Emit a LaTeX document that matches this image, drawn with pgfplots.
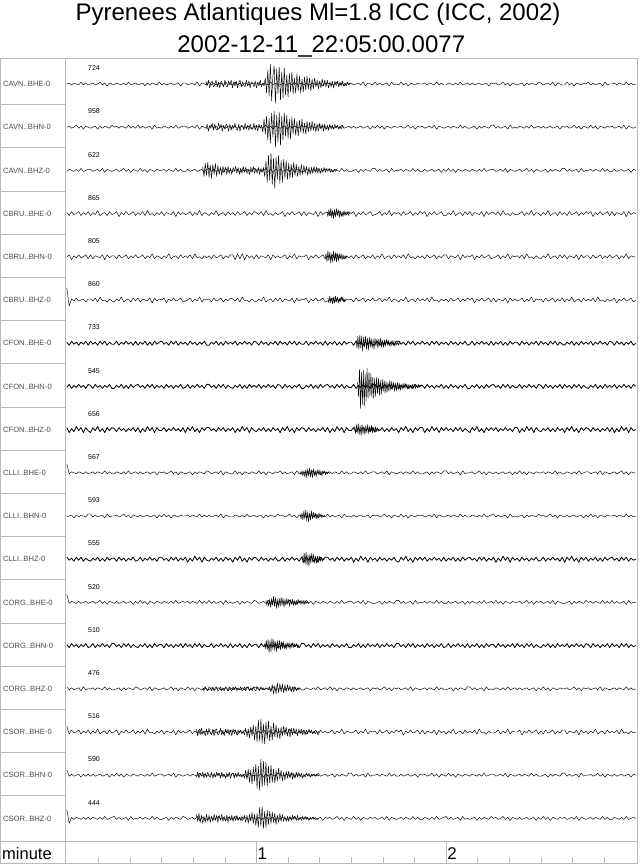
\documentclass[border=0pt]{standalone}
\usepackage{fontspec}
\setmainfont{Liberation Sans}
\usepackage{pgfplots}
\pgfplotsset{compat=1.18}
\tikzset{
  trthin/.style={black, line width=0.45pt, line join=round, mark=none},
  trthick/.style={black, line width=0.8pt, line join=round, mark=none},
  lab/.style={anchor=west, inner sep=0pt, text=black!70, font=\fontsize{7.6}{9}\selectfont},
  cnt/.style={anchor=west, inner sep=0pt, font=\fontsize{7}{8}\selectfont},
}
\begin{document}
\begin{tikzpicture}
\begin{axis}[name=ax, at={(0,0)}, anchor=south west, scale only axis,
  width=637pt, height=805pt, xmin=-21.14, xmax=180.4, ymin=0, ymax=805,
  axis line style={draw=gray!55, line width=0.6pt}, ticks=none, clip mode=individual]

% background noise of each channel: one sample every 0.75 s, px about the row centre
% CAVN..BHE-0
\addplot[trthin] table[row sep=\\, header=false, x expr=\coordindex*0.75, y expr=\thisrowno{0}+779] {
0\\1\\-1\\1\\0\\-1\\2\\-1\\1\\-1\\
0\\1\\-1\\0\\2\\-1\\1\\-2\\1\\0\\
-1\\1\\0\\-1\\1\\-1\\2\\-1\\0\\1\\
-1\\0\\1\\-2\\1\\-1\\1\\0\\-1\\2\\
-1\\1\\-1\\0\\1\\-1\\0\\1\\-2\\1\\
1\\-1\\0\\1\\-1\\2\\-2\\1\\0\\-1\\
2\\-1\\1\\-1\\0\\1\\-2\\2\\-1\\0\\
-1\\2\\-1\\1\\-2\\1\\0\\-1\\1\\0\\
0\\1\\-1\\1\\0\\-1\\2\\-1\\1\\-1\\
-1\\1\\0\\-1\\1\\-1\\2\\-1\\0\\1\\
-1\\1\\-1\\0\\1\\-1\\0\\1\\-2\\1\\
0\\1\\-1\\0\\2\\-1\\1\\-2\\1\\0\\
1\\-1\\0\\1\\-1\\2\\-2\\1\\0\\-1\\
2\\-1\\1\\-1\\0\\1\\-2\\2\\-1\\0\\
-1\\2\\-1\\1\\-2\\1\\0\\-1\\1\\0\\
0\\1\\-1\\1\\0\\-1\\2\\-1\\1\\-1\\
-1\\1\\0\\-1\\1\\-1\\2\\-1\\0\\1\\
-1\\1\\-1\\0\\1\\-1\\0\\1\\-2\\1\\
0\\1\\-1\\0\\2\\-1\\1\\-2\\1\\0\\
-1\\0\\1\\-2\\1\\-1\\1\\0\\-1\\2\\
1\\-1\\0\\1\\-1\\2\\-2\\1\\0\\-1\\
-1\\2\\-1\\1\\-2\\1\\0\\-1\\1\\0\\
2\\-1\\1\\-1\\0\\1\\-2\\2\\-1\\0\\
0\\1\\-1\\1\\0\\-1\\2\\-1\\1\\-1\\
0\\
};
% CAVN..BHN-0
\addplot[trthin] table[row sep=\\, header=false, x expr=\coordindex*0.75, y expr=\thisrowno{0}+735.8] {
0\\1\\-1\\0\\2\\-1\\1\\-2\\1\\0\\
-1\\0\\1\\-2\\1\\-1\\1\\0\\-1\\2\\
0\\1\\-1\\1\\0\\-1\\2\\-1\\1\\-1\\
2\\-1\\1\\-1\\0\\1\\-2\\2\\-1\\0\\
-1\\1\\0\\-1\\1\\-1\\2\\-1\\0\\1\\
1\\-1\\0\\1\\-1\\2\\-2\\1\\0\\-1\\
-1\\2\\-1\\1\\-2\\1\\0\\-1\\1\\0\\
-1\\1\\-1\\0\\1\\-1\\0\\1\\-2\\1\\
0\\1\\-1\\0\\2\\-1\\1\\-2\\1\\0\\
-1\\0\\1\\-2\\1\\-1\\1\\0\\-1\\2\\
0\\1\\-1\\1\\0\\-1\\2\\-1\\1\\-1\\
-1\\1\\0\\-1\\1\\-1\\2\\-1\\0\\1\\
-1\\1\\-1\\0\\1\\-1\\0\\1\\-2\\1\\
-1\\2\\-1\\1\\-2\\1\\0\\-1\\1\\0\\
0\\1\\-1\\0\\2\\-1\\1\\-2\\1\\0\\
1\\-1\\0\\1\\-1\\2\\-2\\1\\0\\-1\\
0\\1\\-1\\1\\0\\-1\\2\\-1\\1\\-1\\
-1\\0\\1\\-2\\1\\-1\\1\\0\\-1\\2\\
2\\-1\\1\\-1\\0\\1\\-2\\2\\-1\\0\\
-1\\1\\0\\-1\\1\\-1\\2\\-1\\0\\1\\
-1\\1\\-1\\0\\1\\-1\\0\\1\\-2\\1\\
0\\1\\-1\\0\\2\\-1\\1\\-2\\1\\0\\
-1\\2\\-1\\1\\-2\\1\\0\\-1\\1\\0\\
1\\-1\\0\\1\\-1\\2\\-2\\1\\0\\-1\\
0\\
};
% CAVN..BHZ-0
\addplot[trthin] table[row sep=\\, header=false, x expr=\coordindex*0.75, y expr=\thisrowno{0}+692.6] {
-1\\1\\0\\-1\\1\\-1\\2\\-1\\0\\1\\
1\\-1\\0\\1\\-1\\2\\-2\\1\\0\\-1\\
0\\1\\-1\\0\\2\\-1\\1\\-2\\1\\0\\
-1\\2\\-1\\1\\-2\\1\\0\\-1\\1\\0\\
0\\1\\-1\\1\\0\\-1\\2\\-1\\1\\-1\\
-1\\1\\-1\\0\\1\\-1\\0\\1\\-2\\1\\
2\\-1\\1\\-1\\0\\1\\-2\\2\\-1\\0\\
-1\\0\\1\\-2\\1\\-1\\1\\0\\-1\\2\\
0\\1\\-1\\0\\2\\-1\\1\\-2\\1\\0\\
1\\-1\\0\\1\\-1\\2\\-2\\1\\0\\-1\\
-1\\1\\0\\-1\\1\\-1\\2\\-1\\0\\1\\
0\\1\\-1\\1\\0\\-1\\2\\-1\\1\\-1\\
-1\\0\\1\\-2\\1\\-1\\1\\0\\-1\\2\\
2\\-1\\1\\-1\\0\\1\\-2\\2\\-1\\0\\
0\\1\\-1\\1\\0\\-1\\2\\-1\\1\\-1\\
-1\\1\\-1\\0\\1\\-1\\0\\1\\-2\\1\\
-1\\2\\-1\\1\\-2\\1\\0\\-1\\1\\0\\
-1\\1\\0\\-1\\1\\-1\\2\\-1\\0\\1\\
1\\-1\\0\\1\\-1\\2\\-2\\1\\0\\-1\\
0\\1\\-1\\0\\2\\-1\\1\\-2\\1\\0\\
-1\\0\\1\\-2\\1\\-1\\1\\0\\-1\\2\\
2\\-1\\1\\-1\\0\\1\\-2\\2\\-1\\0\\
0\\1\\-1\\1\\0\\-1\\2\\-1\\1\\-1\\
-1\\1\\-1\\0\\1\\-1\\0\\1\\-2\\1\\
0\\
};
% CBRU..BHE-0
\addplot[trthin] table[row sep=\\, header=false, x expr=\coordindex*0.75, y expr=\thisrowno{0}+649.4] {
1\\-2\\2\\-1\\0\\2\\-2\\1\\-1\\2\\
-2\\1\\-1\\3\\-2\\0\\1\\-2\\2\\-1\\
0\\2\\-3\\1\\-1\\2\\-1\\0\\2\\-2\\
1\\-1\\2\\-2\\3\\-1\\0\\-2\\1\\-1\\
2\\-2\\1\\0\\-1\\2\\-3\\2\\-1\\1\\
-1\\0\\2\\-2\\1\\-1\\3\\-2\\1\\0\\
-2\\1\\-1\\3\\-2\\0\\1\\-2\\2\\-1\\
1\\-2\\2\\-1\\0\\2\\-2\\1\\-1\\2\\
1\\-1\\2\\-2\\3\\-1\\0\\-2\\1\\-1\\
0\\2\\-3\\1\\-1\\2\\-1\\0\\2\\-2\\
2\\-2\\1\\0\\-1\\2\\-3\\2\\-1\\1\\
1\\-2\\2\\-1\\0\\2\\-2\\1\\-1\\2\\
0\\2\\-3\\1\\-1\\2\\-1\\0\\2\\-2\\
-1\\0\\2\\-2\\1\\-1\\3\\-2\\1\\0\\
1\\-2\\2\\-1\\0\\2\\-2\\1\\-1\\2\\
0\\2\\-3\\1\\-1\\2\\-1\\0\\2\\-2\\
-2\\1\\-1\\3\\-2\\0\\1\\-2\\2\\-1\\
2\\-2\\1\\0\\-1\\2\\-3\\2\\-1\\1\\
1\\-1\\2\\-2\\3\\-1\\0\\-2\\1\\-1\\
-1\\0\\2\\-2\\1\\-1\\3\\-2\\1\\0\\
-2\\1\\-1\\3\\-2\\0\\1\\-2\\2\\-1\\
1\\-2\\2\\-1\\0\\2\\-2\\1\\-1\\2\\
0\\2\\-3\\1\\-1\\2\\-1\\0\\2\\-2\\
2\\-2\\1\\0\\-1\\2\\-3\\2\\-1\\1\\
0\\
};
% CBRU..BHN-0
\addplot[trthin] table[row sep=\\, header=false, x expr=\coordindex*0.75, y expr=\thisrowno{0}+606.2] {
0\\2\\-3\\1\\-1\\2\\-1\\0\\2\\-2\\
2\\-2\\1\\0\\-1\\2\\-3\\2\\-1\\1\\
1\\-2\\2\\-1\\0\\2\\-2\\1\\-1\\2\\
-1\\0\\2\\-2\\1\\-1\\3\\-2\\1\\0\\
-2\\1\\-1\\3\\-2\\0\\1\\-2\\2\\-1\\
1\\-1\\2\\-2\\3\\-1\\0\\-2\\1\\-1\\
1\\-2\\2\\-1\\0\\2\\-2\\1\\-1\\2\\
2\\-3\\3\\-2\\3\\-3\\2\\-1\\1\\-2\\
2\\-2\\1\\0\\-1\\2\\-3\\2\\-1\\1\\
-1\\0\\2\\-2\\1\\-1\\3\\-2\\1\\0\\
0\\2\\-3\\1\\-1\\2\\-1\\0\\2\\-2\\
1\\-1\\2\\-2\\3\\-1\\0\\-2\\1\\-1\\
1\\-2\\2\\-1\\0\\2\\-2\\1\\-1\\2\\
-2\\1\\-1\\3\\-2\\0\\1\\-2\\2\\-1\\
1\\-1\\2\\-2\\3\\-1\\0\\-2\\1\\-1\\
1\\-2\\2\\-1\\0\\2\\-2\\1\\-1\\2\\
2\\-2\\1\\0\\-1\\2\\-3\\2\\-1\\1\\
0\\2\\-3\\1\\-1\\2\\-1\\0\\2\\-2\\
-1\\0\\2\\-2\\1\\-1\\3\\-2\\1\\0\\
1\\-1\\2\\-2\\3\\-1\\0\\-2\\1\\-1\\
-2\\1\\-1\\3\\-2\\0\\1\\-2\\2\\-1\\
2\\-2\\1\\0\\-1\\2\\-3\\2\\-1\\1\\
1\\-2\\2\\-1\\0\\2\\-2\\1\\-1\\2\\
-1\\0\\2\\-2\\1\\-1\\3\\-2\\1\\0\\
0\\
};
% CBRU..BHZ-0
\addplot[trthin] table[row sep=\\, header=false, x expr=\coordindex*0.75, y expr=\thisrowno{0}+563] {
12\\-6\\1\\-1\\2\\-1\\0\\1\\-2\\1\\
1\\-1\\2\\-2\\3\\-1\\0\\-2\\1\\-1\\
-2\\1\\-1\\3\\-2\\0\\1\\-2\\2\\-1\\
2\\-2\\1\\0\\-1\\2\\-3\\2\\-1\\1\\
0\\2\\-3\\1\\-1\\2\\-1\\0\\2\\-2\\
-1\\0\\2\\-2\\1\\-1\\3\\-2\\1\\0\\
1\\-2\\2\\-1\\0\\2\\-2\\1\\-1\\2\\
1\\-1\\2\\-2\\3\\-1\\0\\-2\\1\\-1\\
-2\\1\\-1\\3\\-2\\0\\1\\-2\\2\\-1\\
2\\-2\\1\\0\\-1\\2\\-3\\2\\-1\\1\\
0\\2\\-3\\1\\-1\\2\\-1\\0\\2\\-2\\
-1\\0\\2\\-2\\1\\-1\\3\\-2\\1\\0\\
1\\-2\\2\\-1\\0\\2\\-2\\1\\-1\\2\\
-1\\0\\2\\-2\\1\\-1\\3\\-2\\1\\0\\
-2\\1\\-1\\3\\-2\\0\\1\\-2\\2\\-1\\
1\\-1\\2\\-2\\3\\-1\\0\\-2\\1\\-1\\
1\\-2\\2\\-1\\0\\2\\-2\\1\\-1\\2\\
0\\2\\-3\\1\\-1\\2\\-1\\0\\2\\-2\\
2\\-2\\1\\0\\-1\\2\\-3\\2\\-1\\1\\
-1\\0\\2\\-2\\1\\-1\\3\\-2\\1\\0\\
1\\-2\\2\\-1\\0\\2\\-2\\1\\-1\\2\\
-2\\1\\-1\\3\\-2\\0\\1\\-2\\2\\-1\\
1\\-1\\2\\-2\\3\\-1\\0\\-2\\1\\-1\\
0\\2\\-3\\1\\-1\\2\\-1\\0\\2\\-2\\
0\\
};
% CFON..BHE-0
\addplot[trthick] table[row sep=\\, header=false, x expr=\coordindex*0.75, y expr=\thisrowno{0}+519.8] {
1\\-2\\2\\-1\\1\\-2\\1\\-1\\2\\-2\\
2\\-1\\1\\-2\\2\\-1\\2\\-2\\1\\-1\\
-1\\2\\-2\\1\\-1\\2\\-1\\1\\-2\\2\\
-2\\1\\-1\\2\\-2\\1\\-2\\2\\-1\\1\\
2\\-1\\1\\-2\\2\\-1\\2\\-2\\1\\-1\\
1\\-2\\2\\-1\\1\\-2\\1\\-1\\2\\-2\\
-2\\1\\-1\\2\\-2\\1\\-2\\2\\-1\\1\\
-1\\2\\-2\\1\\-1\\2\\-1\\1\\-2\\2\\
1\\-2\\2\\-1\\1\\-2\\1\\-1\\2\\-2\\
2\\-1\\1\\-2\\2\\-1\\2\\-2\\1\\-1\\
-1\\2\\-2\\1\\-1\\2\\-1\\1\\-2\\2\\
-2\\1\\-1\\2\\-2\\1\\-2\\2\\-1\\1\\
1\\-2\\2\\-1\\1\\-2\\1\\-1\\2\\-2\\
-1\\2\\-2\\1\\-1\\2\\-1\\1\\-2\\2\\
2\\-1\\1\\-2\\2\\-1\\2\\-2\\1\\-1\\
2\\-1\\1\\-2\\2\\-1\\2\\-2\\1\\-1\\
1\\-2\\2\\-1\\1\\-2\\1\\-1\\2\\-2\\
-1\\2\\-2\\1\\-1\\2\\-1\\1\\-2\\2\\
-2\\1\\-1\\2\\-2\\1\\-2\\2\\-1\\1\\
1\\-2\\2\\-1\\1\\-2\\1\\-1\\2\\-2\\
2\\-1\\1\\-2\\2\\-1\\2\\-2\\1\\-1\\
-2\\1\\-1\\2\\-2\\1\\-2\\2\\-1\\1\\
-1\\2\\-2\\1\\-1\\2\\-1\\1\\-2\\2\\
1\\-2\\2\\-1\\1\\-2\\1\\-1\\2\\-2\\
0\\
};
% CFON..BHN-0
\addplot[trthick] table[row sep=\\, header=false, x expr=\coordindex*0.75, y expr=\thisrowno{0}+476.6] {
-1\\2\\-2\\1\\-1\\2\\-1\\1\\-2\\2\\
1\\-2\\2\\-1\\1\\-2\\1\\-1\\2\\-2\\
-2\\1\\-1\\2\\-2\\1\\-2\\2\\-1\\1\\
2\\-1\\1\\-2\\2\\-1\\2\\-2\\1\\-1\\
1\\-2\\2\\-1\\1\\-2\\1\\-1\\2\\-2\\
-1\\2\\-2\\1\\-1\\2\\-1\\1\\-2\\2\\
2\\-1\\1\\-2\\2\\-1\\2\\-2\\1\\-1\\
-2\\1\\-1\\2\\-2\\1\\-2\\2\\-1\\1\\
-1\\2\\-2\\1\\-1\\2\\-1\\1\\-2\\2\\
1\\-2\\2\\-1\\1\\-2\\1\\-1\\2\\-2\\
-2\\1\\-1\\2\\-2\\1\\-2\\2\\-1\\1\\
2\\-1\\1\\-2\\2\\-1\\2\\-2\\1\\-1\\
-1\\2\\-2\\1\\-1\\2\\-1\\1\\-2\\2\\
2\\-1\\1\\-2\\2\\-1\\2\\-2\\1\\-1\\
-2\\1\\-1\\2\\-2\\1\\-2\\2\\-1\\1\\
1\\-2\\2\\-1\\1\\-2\\1\\-1\\2\\-2\\
1\\-2\\2\\-1\\1\\-2\\1\\-1\\2\\-2\\
-2\\1\\-1\\2\\-2\\1\\-2\\2\\-1\\1\\
2\\-1\\1\\-2\\2\\-1\\2\\-2\\1\\-1\\
-1\\2\\-2\\1\\-1\\2\\-1\\1\\-2\\2\\
1\\-2\\2\\-1\\1\\-2\\1\\-1\\2\\-2\\
2\\-1\\1\\-2\\2\\-1\\2\\-2\\1\\-1\\
-2\\1\\-1\\2\\-2\\1\\-2\\2\\-1\\1\\
-1\\2\\-2\\1\\-1\\2\\-1\\1\\-2\\2\\
0\\
};
% CFON..BHZ-0
\addplot[trthick] table[row sep=\\, header=false, x expr=\coordindex*0.75, y expr=\thisrowno{0}+433.4] {
2\\-3\\1\\-2\\3\\-1\\2\\-3\\2\\-1\\
-3\\2\\-1\\3\\-2\\1\\-3\\2\\-1\\2\\
1\\-2\\2\\-1\\1\\-2\\1\\-1\\2\\-2\\
2\\-3\\1\\-2\\3\\-1\\2\\-3\\2\\-1\\
-1\\2\\-2\\1\\-1\\2\\-1\\1\\-2\\2\\
-3\\2\\-1\\3\\-2\\1\\-3\\2\\-1\\2\\
2\\-1\\1\\-2\\2\\-1\\2\\-2\\1\\-1\\
2\\-3\\1\\-2\\3\\-1\\2\\-3\\2\\-1\\
-2\\1\\-1\\2\\-2\\1\\-2\\2\\-1\\1\\
-3\\2\\-1\\3\\-2\\1\\-3\\2\\-1\\2\\
1\\-2\\2\\-1\\1\\-2\\1\\-1\\2\\-2\\
2\\-3\\1\\-2\\3\\-1\\2\\-3\\2\\-1\\
-1\\2\\-2\\1\\-1\\2\\-1\\1\\-2\\2\\
-2\\1\\-1\\2\\-2\\1\\-2\\2\\-1\\1\\
-3\\2\\-1\\3\\-2\\1\\-3\\2\\-1\\2\\
2\\-3\\1\\-2\\3\\-1\\2\\-3\\2\\-1\\
2\\-1\\1\\-2\\2\\-1\\2\\-2\\1\\-1\\
-3\\2\\-1\\3\\-2\\1\\-3\\2\\-1\\2\\
-1\\2\\-2\\1\\-1\\2\\-1\\1\\-2\\2\\
2\\-3\\1\\-2\\3\\-1\\2\\-3\\2\\-1\\
-2\\1\\-1\\2\\-2\\1\\-2\\2\\-1\\1\\
-3\\2\\-1\\3\\-2\\1\\-3\\2\\-1\\2\\
1\\-2\\2\\-1\\1\\-2\\1\\-1\\2\\-2\\
2\\-3\\1\\-2\\3\\-1\\2\\-3\\2\\-1\\
0\\
};
% CLLI..BHE-0
\addplot[trthin] table[row sep=\\, header=false, x expr=\coordindex*0.75, y expr=\thisrowno{0}+390.2] {
9\\-1\\1\\0\\-1\\1\\0\\-1\\1\\-1\\
0\\1\\-1\\1\\0\\-1\\2\\-1\\1\\-1\\
-1\\1\\0\\-1\\1\\-1\\2\\-1\\0\\1\\
-1\\1\\-1\\0\\1\\-1\\0\\1\\-2\\1\\
0\\1\\-1\\0\\2\\-1\\1\\-2\\1\\0\\
-1\\0\\1\\-2\\1\\-1\\1\\0\\-1\\2\\
1\\-1\\0\\1\\-1\\2\\-2\\1\\0\\-1\\
-1\\2\\-1\\1\\-2\\1\\0\\-1\\1\\0\\
-1\\2\\-1\\1\\-2\\1\\0\\-1\\1\\0\\
2\\-1\\1\\-1\\0\\1\\-2\\2\\-1\\0\\
0\\1\\-1\\0\\2\\-1\\1\\-2\\1\\0\\
0\\1\\-1\\1\\0\\-1\\2\\-1\\1\\-1\\
-1\\1\\0\\-1\\1\\-1\\2\\-1\\0\\1\\
1\\-1\\0\\1\\-1\\2\\-2\\1\\0\\-1\\
0\\1\\-1\\1\\0\\-1\\2\\-1\\1\\-1\\
-1\\0\\1\\-2\\1\\-1\\1\\0\\-1\\2\\
2\\-1\\1\\-1\\0\\1\\-2\\2\\-1\\0\\
0\\1\\-1\\0\\2\\-1\\1\\-2\\1\\0\\
-1\\1\\-1\\0\\1\\-1\\0\\1\\-2\\1\\
-1\\2\\-1\\1\\-2\\1\\0\\-1\\1\\0\\
0\\1\\-1\\1\\0\\-1\\2\\-1\\1\\-1\\
-1\\1\\0\\-1\\1\\-1\\2\\-1\\0\\1\\
1\\-1\\0\\1\\-1\\2\\-2\\1\\0\\-1\\
0\\1\\-1\\0\\2\\-1\\1\\-2\\1\\0\\
0\\
};
% CLLI..BHN-0
\addplot[trthin] table[row sep=\\, header=false, x expr=\coordindex*0.75, y expr=\thisrowno{0}+347] {
-1\\0\\1\\-2\\1\\-1\\1\\0\\-1\\2\\
2\\-1\\1\\-1\\0\\1\\-2\\2\\-1\\0\\
0\\1\\-1\\0\\2\\-1\\1\\-2\\1\\0\\
-1\\1\\-1\\0\\1\\-1\\0\\1\\-2\\1\\
-1\\2\\-1\\1\\-2\\1\\0\\-1\\1\\0\\
0\\1\\-1\\1\\0\\-1\\2\\-1\\1\\-1\\
1\\-1\\0\\1\\-1\\2\\-2\\1\\0\\-1\\
-1\\1\\0\\-1\\1\\-1\\2\\-1\\0\\1\\
-1\\0\\1\\-2\\1\\-1\\1\\0\\-1\\2\\
0\\1\\-1\\0\\2\\-1\\1\\-2\\1\\0\\
1\\-1\\0\\1\\-1\\2\\-2\\1\\0\\-1\\
2\\-1\\1\\-1\\0\\1\\-2\\2\\-1\\0\\
-1\\1\\-1\\0\\1\\-1\\0\\1\\-2\\1\\
0\\1\\-1\\0\\2\\-1\\1\\-2\\1\\0\\
-1\\2\\-1\\1\\-2\\1\\0\\-1\\1\\0\\
1\\-1\\0\\1\\-1\\2\\-2\\1\\0\\-1\\
0\\1\\-1\\1\\0\\-1\\2\\-1\\1\\-1\\
-1\\1\\0\\-1\\1\\-1\\2\\-1\\0\\1\\
2\\-1\\1\\-1\\0\\1\\-2\\2\\-1\\0\\
-1\\0\\1\\-2\\1\\-1\\1\\0\\-1\\2\\
0\\1\\-1\\0\\2\\-1\\1\\-2\\1\\0\\
-1\\1\\-1\\0\\1\\-1\\0\\1\\-2\\1\\
-1\\2\\-1\\1\\-2\\1\\0\\-1\\1\\0\\
0\\1\\-1\\1\\0\\-1\\2\\-1\\1\\-1\\
0\\
};
% CLLI..BHZ-0
\addplot[trthick] table[row sep=\\, header=false, x expr=\coordindex*0.75, y expr=\thisrowno{0}+303.8] {
2\\-1\\1\\-2\\2\\-1\\2\\-2\\1\\-1\\
-2\\1\\-1\\2\\-2\\1\\-2\\2\\-1\\1\\
1\\-2\\2\\-1\\1\\-2\\1\\-1\\2\\-2\\
-1\\2\\-2\\1\\-1\\2\\-1\\1\\-2\\2\\
2\\-1\\1\\-2\\2\\-1\\2\\-2\\1\\-1\\
2\\-3\\1\\-2\\3\\-1\\2\\-3\\2\\-1\\
-2\\1\\-1\\2\\-2\\1\\-2\\2\\-1\\1\\
-3\\2\\-1\\3\\-2\\1\\-3\\2\\-1\\2\\
1\\-2\\2\\-1\\1\\-2\\1\\-1\\2\\-2\\
-1\\2\\-2\\1\\-1\\2\\-1\\1\\-2\\2\\
-3\\2\\-1\\3\\-2\\1\\-3\\2\\-1\\2\\
2\\-1\\1\\-2\\2\\-1\\2\\-2\\1\\-1\\
2\\-3\\1\\-2\\3\\-1\\2\\-3\\2\\-1\\
1\\-2\\2\\-1\\1\\-2\\1\\-1\\2\\-2\\
-3\\2\\-1\\3\\-2\\1\\-3\\2\\-1\\2\\
-1\\2\\-2\\1\\-1\\2\\-1\\1\\-2\\2\\
-2\\1\\-1\\2\\-2\\1\\-2\\2\\-1\\1\\
2\\-1\\1\\-2\\2\\-1\\2\\-2\\1\\-1\\
2\\-3\\1\\-2\\3\\-1\\2\\-3\\2\\-1\\
1\\-2\\2\\-1\\1\\-2\\1\\-1\\2\\-2\\
-1\\2\\-2\\1\\-1\\2\\-1\\1\\-2\\2\\
-3\\2\\-1\\3\\-2\\1\\-3\\2\\-1\\2\\
-2\\1\\-1\\2\\-2\\1\\-2\\2\\-1\\1\\
2\\-1\\1\\-2\\2\\-1\\2\\-2\\1\\-1\\
0\\
};
% CORG..BHE-0
\addplot[trthin] table[row sep=\\, header=false, x expr=\coordindex*0.75, y expr=\thisrowno{0}+260.6] {
8\\-1\\1\\0\\-1\\1\\-1\\0\\1\\-1\\
0\\1\\-1\\0\\2\\-1\\1\\-2\\1\\0\\
-1\\1\\-1\\0\\1\\-1\\0\\1\\-2\\1\\
-1\\2\\-1\\1\\-2\\1\\0\\-1\\1\\0\\
-1\\1\\0\\-1\\1\\-1\\2\\-1\\0\\1\\
0\\1\\-1\\1\\0\\-1\\2\\-1\\1\\-1\\
2\\-1\\1\\-1\\0\\1\\-2\\2\\-1\\0\\
-1\\0\\1\\-2\\1\\-1\\1\\0\\-1\\2\\
1\\-1\\0\\1\\-1\\2\\-2\\1\\0\\-1\\
0\\1\\-1\\0\\2\\-1\\1\\-2\\1\\0\\
-1\\2\\-1\\1\\-2\\1\\0\\-1\\1\\0\\
-1\\1\\0\\-1\\1\\-1\\2\\-1\\0\\1\\
1\\-1\\0\\1\\-1\\2\\-2\\1\\0\\-1\\
-1\\0\\1\\-2\\1\\-1\\1\\0\\-1\\2\\
2\\-1\\1\\-1\\0\\1\\-2\\2\\-1\\0\\
0\\1\\-1\\1\\0\\-1\\2\\-1\\1\\-1\\
-1\\1\\-1\\0\\1\\-1\\0\\1\\-2\\1\\
-1\\1\\0\\-1\\1\\-1\\2\\-1\\0\\1\\
-1\\2\\-1\\1\\-2\\1\\0\\-1\\1\\0\\
0\\1\\-1\\0\\2\\-1\\1\\-2\\1\\0\\
1\\-1\\0\\1\\-1\\2\\-2\\1\\0\\-1\\
-1\\0\\1\\-2\\1\\-1\\1\\0\\-1\\2\\
0\\1\\-1\\1\\0\\-1\\2\\-1\\1\\-1\\
2\\-1\\1\\-1\\0\\1\\-2\\2\\-1\\0\\
0\\
};
% CORG..BHN-0
\addplot[trthick] table[row sep=\\, header=false, x expr=\coordindex*0.75, y expr=\thisrowno{0}+217.4] {
1\\-2\\2\\-1\\1\\-2\\1\\-1\\2\\-2\\
-1\\2\\-2\\1\\-1\\2\\-1\\1\\-2\\2\\
2\\-1\\1\\-2\\2\\-1\\2\\-2\\1\\-1\\
-2\\1\\-1\\2\\-2\\1\\-2\\2\\-1\\1\\
1\\-2\\2\\-1\\1\\-2\\1\\-1\\2\\-2\\
2\\-1\\1\\-2\\2\\-1\\2\\-2\\1\\-1\\
-1\\2\\-2\\1\\-1\\2\\-1\\1\\-2\\2\\
-2\\1\\-1\\2\\-2\\1\\-2\\2\\-1\\1\\
1\\-2\\2\\-1\\1\\-2\\1\\-1\\2\\-2\\
-1\\2\\-2\\1\\-1\\2\\-1\\1\\-2\\2\\
2\\-1\\1\\-2\\2\\-1\\2\\-2\\1\\-1\\
1\\-2\\2\\-1\\1\\-2\\1\\-1\\2\\-2\\
-2\\1\\-1\\2\\-2\\1\\-2\\2\\-1\\1\\
-1\\2\\-2\\1\\-1\\2\\-1\\1\\-2\\2\\
2\\-1\\1\\-2\\2\\-1\\2\\-2\\1\\-1\\
1\\-2\\2\\-1\\1\\-2\\1\\-1\\2\\-2\\
-1\\2\\-2\\1\\-1\\2\\-1\\1\\-2\\2\\
-2\\1\\-1\\2\\-2\\1\\-2\\2\\-1\\1\\
1\\-2\\2\\-1\\1\\-2\\1\\-1\\2\\-2\\
2\\-1\\1\\-2\\2\\-1\\2\\-2\\1\\-1\\
-2\\1\\-1\\2\\-2\\1\\-2\\2\\-1\\1\\
-1\\2\\-2\\1\\-1\\2\\-1\\1\\-2\\2\\
1\\-2\\2\\-1\\1\\-2\\1\\-1\\2\\-2\\
2\\-1\\1\\-2\\2\\-1\\2\\-2\\1\\-1\\
0\\
};
% CORG..BHZ-0
\addplot[trthin] table[row sep=\\, header=false, x expr=\coordindex*0.75, y expr=\thisrowno{0}+174.2] {
2\\-1\\1\\-1\\0\\1\\-2\\2\\-1\\0\\
0\\1\\-1\\1\\0\\-1\\2\\-1\\1\\-1\\
-1\\0\\1\\-2\\1\\-1\\1\\0\\-1\\2\\
1\\-1\\0\\1\\-1\\2\\-2\\1\\0\\-1\\
0\\1\\-1\\0\\2\\-1\\1\\-2\\1\\0\\
-1\\2\\-1\\1\\-2\\1\\0\\-1\\1\\0\\
-1\\1\\-1\\0\\1\\-1\\0\\1\\-2\\1\\
-1\\1\\0\\-1\\1\\-1\\2\\-1\\0\\1\\
2\\-1\\1\\-1\\0\\1\\-2\\2\\-1\\0\\
0\\1\\-1\\1\\0\\-1\\2\\-1\\1\\-1\\
-1\\1\\0\\-1\\1\\-1\\2\\-1\\0\\1\\
-1\\2\\-1\\1\\-2\\1\\0\\-1\\1\\0\\
-1\\1\\-1\\0\\1\\-1\\0\\1\\-2\\1\\
0\\1\\-1\\0\\2\\-1\\1\\-2\\1\\0\\
1\\-1\\0\\1\\-1\\2\\-2\\1\\0\\-1\\
0\\1\\-1\\1\\0\\-1\\2\\-1\\1\\-1\\
-1\\0\\1\\-2\\1\\-1\\1\\0\\-1\\2\\
2\\-1\\1\\-1\\0\\1\\-2\\2\\-1\\0\\
-1\\1\\0\\-1\\1\\-1\\2\\-1\\0\\1\\
-1\\1\\-1\\0\\1\\-1\\0\\1\\-2\\1\\
-1\\2\\-1\\1\\-2\\1\\0\\-1\\1\\0\\
0\\1\\-1\\0\\2\\-1\\1\\-2\\1\\0\\
1\\-1\\0\\1\\-1\\2\\-2\\1\\0\\-1\\
0\\1\\-1\\1\\0\\-1\\2\\-1\\1\\-1\\
0\\
};
% CSOR..BHE-0
\addplot[trthin] table[row sep=\\, header=false, x expr=\coordindex*0.75, y expr=\thisrowno{0}+131] {
6\\-2\\2\\-1\\0\\2\\-2\\1\\-1\\2\\
-2\\1\\-1\\3\\-2\\0\\1\\-2\\2\\-1\\
0\\2\\-3\\1\\-1\\2\\-1\\0\\2\\-2\\
1\\-1\\2\\-2\\3\\-1\\0\\-2\\1\\-1\\
2\\-2\\1\\0\\-1\\2\\-3\\2\\-1\\1\\
-1\\0\\2\\-2\\1\\-1\\3\\-2\\1\\0\\
1\\-2\\2\\-1\\0\\2\\-2\\1\\-1\\2\\
0\\2\\-3\\1\\-1\\2\\-1\\0\\2\\-2\\
-2\\1\\-1\\3\\-2\\0\\1\\-2\\2\\-1\\
1\\-1\\2\\-2\\3\\-1\\0\\-2\\1\\-1\\
2\\-2\\1\\0\\-1\\2\\-3\\2\\-1\\1\\
-1\\0\\2\\-2\\1\\-1\\3\\-2\\1\\0\\
-1\\0\\2\\-2\\1\\-1\\3\\-2\\1\\0\\
1\\-2\\2\\-1\\0\\2\\-2\\1\\-1\\2\\
0\\2\\-3\\1\\-1\\2\\-1\\0\\2\\-2\\
2\\-2\\1\\0\\-1\\2\\-3\\2\\-1\\1\\
-2\\1\\-1\\3\\-2\\0\\1\\-2\\2\\-1\\
1\\-1\\2\\-2\\3\\-1\\0\\-2\\1\\-1\\
-1\\0\\2\\-2\\1\\-1\\3\\-2\\1\\0\\
0\\2\\-3\\1\\-1\\2\\-1\\0\\2\\-2\\
1\\-2\\2\\-1\\0\\2\\-2\\1\\-1\\2\\
2\\-2\\1\\0\\-1\\2\\-3\\2\\-1\\1\\
-2\\1\\-1\\3\\-2\\0\\1\\-2\\2\\-1\\
1\\-1\\2\\-2\\3\\-1\\0\\-2\\1\\-1\\
0\\
};
% CSOR..BHN-0
\addplot[trthin] table[row sep=\\, header=false, x expr=\coordindex*0.75, y expr=\thisrowno{0}+87.8] {
5\\-1\\1\\-1\\0\\1\\-2\\1\\-1\\1\\
-1\\1\\-1\\0\\1\\-1\\0\\1\\-2\\1\\
-1\\2\\-1\\1\\-2\\1\\0\\-1\\1\\0\\
-1\\1\\0\\-1\\1\\-1\\2\\-1\\0\\1\\
1\\-1\\0\\1\\-1\\2\\-2\\1\\0\\-1\\
0\\1\\-1\\1\\0\\-1\\2\\-1\\1\\-1\\
0\\1\\-1\\0\\2\\-1\\1\\-2\\1\\0\\
2\\-1\\1\\-1\\0\\1\\-2\\2\\-1\\0\\
-1\\0\\1\\-2\\1\\-1\\1\\0\\-1\\2\\
1\\-1\\0\\1\\-1\\2\\-2\\1\\0\\-1\\
-1\\1\\0\\-1\\1\\-1\\2\\-1\\0\\1\\
-1\\0\\1\\-2\\1\\-1\\1\\0\\-1\\2\\
2\\-1\\1\\-1\\0\\1\\-2\\2\\-1\\0\\
0\\1\\-1\\1\\0\\-1\\2\\-1\\1\\-1\\
-1\\1\\-1\\0\\1\\-1\\0\\1\\-2\\1\\
0\\1\\-1\\0\\2\\-1\\1\\-2\\1\\0\\
-1\\2\\-1\\1\\-2\\1\\0\\-1\\1\\0\\
-1\\1\\0\\-1\\1\\-1\\2\\-1\\0\\1\\
1\\-1\\0\\1\\-1\\2\\-2\\1\\0\\-1\\
0\\1\\-1\\1\\0\\-1\\2\\-1\\1\\-1\\
-1\\0\\1\\-2\\1\\-1\\1\\0\\-1\\2\\
2\\-1\\1\\-1\\0\\1\\-2\\2\\-1\\0\\
0\\1\\-1\\0\\2\\-1\\1\\-2\\1\\0\\
-1\\1\\-1\\0\\1\\-1\\0\\1\\-2\\1\\
0\\
};
% CSOR..BHZ-0
\addplot[trthin] table[row sep=\\, header=false, x expr=\coordindex*0.75, y expr=\thisrowno{0}+44.6] {
9\\-5\\1\\-1\\1\\0\\-1\\1\\-1\\1\\
-1\\1\\0\\-1\\1\\-1\\2\\-1\\0\\1\\
2\\-1\\1\\-1\\0\\1\\-2\\2\\-1\\0\\
0\\1\\-1\\1\\0\\-1\\2\\-1\\1\\-1\\
-1\\0\\1\\-2\\1\\-1\\1\\0\\-1\\2\\
1\\-1\\0\\1\\-1\\2\\-2\\1\\0\\-1\\
0\\1\\-1\\0\\2\\-1\\1\\-2\\1\\0\\
-1\\2\\-1\\1\\-2\\1\\0\\-1\\1\\0\\
-1\\1\\-1\\0\\1\\-1\\0\\1\\-2\\1\\
-1\\1\\0\\-1\\1\\-1\\2\\-1\\0\\1\\
-1\\1\\-1\\0\\1\\-1\\0\\1\\-2\\1\\
0\\1\\-1\\0\\2\\-1\\1\\-2\\1\\0\\
-1\\2\\-1\\1\\-2\\1\\0\\-1\\1\\0\\
1\\-1\\0\\1\\-1\\2\\-2\\1\\0\\-1\\
0\\1\\-1\\1\\0\\-1\\2\\-1\\1\\-1\\
-1\\1\\0\\-1\\1\\-1\\2\\-1\\0\\1\\
2\\-1\\1\\-1\\0\\1\\-2\\2\\-1\\0\\
-1\\0\\1\\-2\\1\\-1\\1\\0\\-1\\2\\
0\\1\\-1\\0\\2\\-1\\1\\-2\\1\\0\\
-1\\1\\-1\\0\\1\\-1\\0\\1\\-2\\1\\
-1\\2\\-1\\1\\-2\\1\\0\\-1\\1\\0\\
1\\-1\\0\\1\\-1\\2\\-2\\1\\0\\-1\\
0\\1\\-1\\1\\0\\-1\\2\\-1\\1\\-1\\
-1\\1\\0\\-1\\1\\-1\\2\\-1\\0\\1\\
0\\
};

% event windows, sampled more finely (start time and step in s)
% CAVN..BHE-0
\addplot[trthin] table[row sep=\\, header=false, x expr=44+\coordindex*0.4, y expr=\thisrowno{0}+779] {
3\\-2\\4\\-4\\1\\3\\-3\\-1\\4\\-3\\2\\-4\\3\\1\\-3\\4\\-2\\-3\\3\\-1\\
4\\-4\\2\\-2\\3\\-4\\1\\4\\-3\\2\\-1\\-3\\4\\-2\\3\\-4\\2\\1\\-3\\3\\
-4\\2\\-2\\4\\-3\\1\\-2\\
6\\-9\\14\\-12\\20\\-17\\8\\18\\-19\\15\\-10\\17\\-16\\12\\-14\\16\\-11\\9\\
-13\\11\\-8\\12\\-10\\6\\-9\\10\\-7\\8\\-9\\5\\-8\\7\\-6\\8\\-5\\6\\-7\\5\\
-5\\6\\-3\\4\\-5\\3\\-4\\5\\-2\\4\\-3\\4\\-4\\2\\-3\\3\\-4\\3\\-2\\3\\-3\\2\\-2\\3\\-2\\1\\-2\\2\\-1\\1\\
};
% CAVN..BHN-0
\addplot[trthin] table[row sep=\\, header=false, x expr=44+\coordindex*0.4, y expr=\thisrowno{0}+735.8] {
-2\\3\\-4\\2\\-1\\4\\-3\\3\\-2\\-3\\4\\-1\\3\\-4\\2\\-2\\3\\1\\-4\\3\\
-3\\2\\-1\\4\\-2\\-3\\3\\-4\\2\\1\\-3\\4\\-2\\2\\-3\\3\\-1\\-2\\4\\-3\\
2\\-4\\3\\-1\\2\\
-5\\8\\-7\\11\\-13\\9\\-16\\14\\-10\\16\\-20\\12\\-15\\15\\-18\\11\\-13\\14\\-9\\12\\-11\\8\\-12\\10\\-7\\
9\\-8\\6\\-9\\7\\-5\\8\\-6\\4\\-7\\6\\-5\\5\\-4\\6\\-3\\4\\-5\\3\\-4\\
4\\-2\\3\\-4\\3\\-3\\2\\-3\\3\\-2\\2\\-2\\3\\-1\\2\\-2\\1\\-2\\2\\-1\\
};
% CAVN..BHZ-0
\addplot[trthin] table[row sep=\\, header=false, x expr=43+\coordindex*0.4, y expr=\thisrowno{0}+692.6] {
4\\-6\\7\\-5\\8\\-7\\5\\-8\\6\\-4\\7\\-6\\5\\
-4\\3\\-5\\4\\-2\\3\\-4\\4\\-3\\2\\-4\\3\\-1\\4\\-3\\3\\-4\\2\\-3\\4\\
-2\\3\\-3\\1\\-4\\3\\-2\\4\\-3\\2\\-3\\3\\-4\\2\\-2\\3\\
-6\\9\\-12\\15\\-10\\17\\-14\\12\\-18\\13\\-9\\15\\-13\\10\\-12\\11\\-8\\10\\
-9\\7\\-8\\6\\-7\\8\\-5\\6\\-6\\4\\-5\\6\\-4\\5\\-3\\4\\-5\\3\\-4\\3\\
-3\\4\\-2\\3\\-3\\2\\-3\\2\\-2\\3\\-2\\2\\-1\\2\\-2\\1\\-2\\1\\-1\\1\\
};
% CBRU..BHE-0
\addplot[trthin] table[row sep=\\, header=false, x expr=82.3+\coordindex*0.3, y expr=\thisrowno{0}+649.4] {
2\\-3\\4\\-2\\5\\-4\\3\\-5\\4\\-3\\5\\-2\\4\\-4\\3\\-3\\2\\-3\\3\\-2\\2\\-1\\2\\-2\\1\\
};
% CBRU..BHN-0
\addplot[trthin] table[row sep=\\, header=false, x expr=81.7+\coordindex*0.3, y expr=\thisrowno{0}+606.2] {
-2\\3\\-5\\6\\-4\\5\\-6\\3\\-5\\6\\-4\\4\\-5\\3\\-4\\3\\-2\\3\\-3\\2\\-2\\1\\-2\\1\\
};
% CBRU..BHZ-0
\addplot[trthin] table[row sep=\\, header=false, x expr=82.6+\coordindex*0.3, y expr=\thisrowno{0}+563] {
2\\-3\\4\\-3\\2\\-4\\3\\-3\\4\\-2\\3\\-3\\2\\-2\\3\\-1\\2\\-2\\1\\-1\\
};
% CFON..BHE-0
\addplot[trthin] table[row sep=\\, header=false, x expr=91.5+\coordindex*0.3, y expr=\thisrowno{0}+519.8] {
3\\-5\\7\\-6\\8\\-5\\7\\-8\\6\\-4\\7\\-6\\5\\-7\\6\\-4\\5\\-5\\4\\-6\\
5\\-3\\4\\-5\\4\\-3\\5\\-4\\3\\-4\\3\\-3\\4\\-2\\3\\-3\\2\\-3\\3\\-2\\
2\\-3\\2\\-2\\1\\-2\\2\\-1\\
};
% CFON..BHN-0
\addplot[trthin] table[row sep=\\, header=false, x expr=92+\coordindex*0.3, y expr=\thisrowno{0}+476.6] {
4\\-10\\17\\-22\\14\\-18\\16\\-20\\12\\-15\\18\\-12\\14\\-10\\13\\-11\\9\\-12\\8\\-10\\
9\\-7\\8\\-9\\6\\-8\\7\\-5\\6\\-7\\5\\-6\\4\\-5\\6\\-4\\5\\-3\\4\\-5\\
3\\-4\\4\\-3\\3\\-4\\2\\-3\\3\\-2\\3\\-2\\2\\-3\\2\\-2\\1\\-2\\2\\-1\\
2\\-2\\1\\-1\\2\\-1\\1\\-1\\
};
% CFON..BHZ-0
\addplot[trthin] table[row sep=\\, header=false, x expr=91+\coordindex*0.3, y expr=\thisrowno{0}+433.4] {
3\\-4\\5\\-3\\6\\-5\\4\\-6\\5\\-4\\3\\-5\\4\\-3\\5\\-4\\3\\-2\\4\\-3\\2\\-3\\3\\-2\\2\\-2\\1\\
};
% CLLI..BHE-0
\addplot[trthin] table[row sep=\\, header=false, x expr=73.8+\coordindex*0.3, y expr=\thisrowno{0}+390.2] {
1\\-2\\2\\-3\\2\\-4\\3\\-5\\4\\-3\\5\\-4\\3\\-5\\4\\-3\\2\\-4\\3\\-2\\3\\-2\\2\\-3\\2\\-1\\2\\-2\\1\\-1\\1\\-1\\
};
% CLLI..BHN-0
\addplot[trthin] table[row sep=\\, header=false, x expr=73.8+\coordindex*0.3, y expr=\thisrowno{0}+347] {
2\\-3\\3\\-4\\5\\-3\\6\\-5\\4\\-6\\3\\-4\\5\\-3\\4\\-2\\3\\-3\\2\\-2\\3\\-1\\2\\-2\\1\\-1\\1\\
};
% CLLI..BHZ-0
\addplot[trthin] table[row sep=\\, header=false, x expr=74.5+\coordindex*0.3, y expr=\thisrowno{0}+303.8] {
3\\-4\\6\\-5\\7\\-6\\4\\-7\\5\\-4\\6\\-3\\5\\-4\\3\\-4\\3\\-2\\3\\-2\\2\\-2\\1\\-1\\
};
% CORG..BHE-0
\addplot[trthin] table[row sep=\\, header=false, x expr=63+\coordindex*0.3, y expr=\thisrowno{0}+260.6] {
2\\-3\\2\\-4\\3\\-5\\4\\-3\\6\\-4\\5\\-6\\3\\-5\\4\\-4\\5\\-3\\4\\-5\\
3\\-3\\4\\-2\\3\\-4\\3\\-2\\3\\-3\\2\\-3\\2\\-2\\3\\-1\\2\\-2\\2\\-1\\
2\\-2\\1\\-1\\1\\-1\\
};
% CORG..BHN-0
\addplot[trthin] table[row sep=\\, header=false, x expr=62.5+\coordindex*0.3, y expr=\thisrowno{0}+217.4] {
2\\-3\\5\\-4\\6\\-7\\5\\-6\\7\\-4\\6\\-5\\4\\-6\\5\\-3\\5\\-4\\4\\-3\\
4\\-3\\2\\-4\\3\\-2\\3\\-3\\2\\-2\\3\\-2\\2\\-1\\2\\-2\\1\\
};
% CORG..BHZ-0
\addplot[trthin] table[row sep=\\, header=false, x expr=43+\coordindex*0.4, y expr=\thisrowno{0}+174.2] {
1\\-2\\2\\-1\\-2\\2\\1\\-2\\2\\-2\\1\\2\\-2\\-1\\2\\-2\\1\\-2\\2\\1\\
-2\\2\\-1\\-2\\2\\-1\\2\\-2\\1\\-1\\2\\-2\\-1\\2\\-2\\1\\2\\-2\\1\\-2\\
2\\-1\\-2\\2\\1\\-2\\2\\
-1\\1\\-1\\1\\0\\-1\\
2\\-3\\4\\-5\\3\\-5\\6\\-4\\5\\-3\\5\\-4\\4\\-3\\4\\-2\\3\\-3\\2\\-3\\2\\-2\\1\\-1\\1\\
};
% CSOR..BHE-0
\addplot[trthin] table[row sep=\\, header=false, x expr=41+\coordindex*0.4, y expr=\thisrowno{0}+131] {
3\\-4\\2\\-3\\4\\-2\\1\\-4\\3\\-3\\4\\-1\\-3\\3\\-4\\2\\3\\-3\\-2\\4\\
-3\\2\\-4\\3\\-1\\3\\-3\\2\\-4\\3\\-2\\2\\-3\\2\\
-1\\2\\-2\\1\\
-3\\4\\-5\\3\\-6\\5\\-4\\7\\-8\\6\\-10\\12\\-9\\13\\-11\\8\\-12\\10\\-7\\11\\
-9\\6\\-8\\9\\-5\\7\\-6\\4\\-7\\5\\-4\\6\\-3\\5\\-4\\
3\\-5\\4\\-3\\4\\-2\\3\\-4\\3\\-2\\3\\-3\\2\\-3\\2\\-2\\3\\-1\\2\\-2\\1\\-2\\1\\-1\\1\\
};
% CSOR..BHN-0
\addplot[trthin] table[row sep=\\, header=false, x expr=41+\coordindex*0.4, y expr=\thisrowno{0}+87.8] {
-2\\3\\-3\\2\\-1\\3\\-3\\2\\-2\\3\\-1\\-2\\3\\-3\\2\\-2\\3\\-1\\2\\-3\\
3\\-2\\1\\-3\\2\\-2\\3\\-3\\1\\2\\-3\\2\\-2\\3\\
-1\\1\\-2\\1\\
-3\\5\\-4\\6\\-7\\5\\-9\\8\\-6\\11\\-13\\9\\-15\\16\\-12\\14\\-10\\13\\-11\\9\\
-8\\10\\-7\\6\\-8\\5\\-6\\7\\-4\\5\\-6\\3\\-5\\4\\-3\\
4\\-3\\3\\-4\\2\\-3\\3\\-2\\3\\-2\\2\\-3\\1\\-2\\2\\-1\\2\\-2\\1\\-1\\1\\-1\\1\\-1\\0\\
};
% CSOR..BHZ-0
\addplot[trthin] table[row sep=\\, header=false, x expr=41+\coordindex*0.4, y expr=\thisrowno{0}+44.6] {
4\\-3\\5\\-4\\3\\-5\\2\\-4\\4\\-3\\3\\-4\\2\\-3\\4\\-2\\3\\-4\\3\\-2\\
4\\-3\\2\\-3\\3\\-4\\2\\-2\\3\\-3\\2\\-2\\3\\-2\\
1\\-2\\2\\-1\\
3\\-4\\3\\-5\\4\\-3\\6\\-5\\4\\-7\\5\\-9\\11\\-8\\12\\-10\\7\\-9\\8\\-6\\
7\\-5\\6\\-4\\5\\-6\\3\\-4\\5\\-3\\4\\-3\\2\\-3\\2\\
-3\\2\\-2\\3\\-1\\2\\-2\\3\\-2\\1\\-2\\2\\-1\\2\\-1\\1\\-2\\1\\-1\\1\\-1\\1\\0\\-1\\0\\
};

% frame: label column, row separators, minute row
\draw[gray!55, line width=0.6pt] (axis cs:-0.57,0) -- (axis cs:-0.57,805);
\draw[gray!55, line width=0.6pt] (axis cs:-21.14,22) -- (axis cs:180.4,22);
\pgfplotsinvokeforeach{758.5,715.3,672.1,628.9,585.7,542.5,499.3,456.1,412.9,369.7,326.5,283.3,240.1,196.9,153.7,110.5,67.3}{
  \draw[gray!55, line width=0.6pt] (axis cs:-21.14,#1) -- (axis cs:-0.57,#1);
}
\draw[gray!55, line width=0.6pt] (axis cs:60,0) -- (axis cs:60,22);
\draw[gray!55, line width=0.6pt] (axis cs:120,0) -- (axis cs:120,22);
\pgfplotsinvokeforeach{10,20,30,40,50,70,80,90,100,110,130,140,150,160,170}{
  \draw[gray!55, line width=0.6pt] (axis cs:#1,0) -- (axis cs:#1,5.5);
}
\node[anchor=base west, inner sep=0pt, font=\fontsize{16.5}{18}\selectfont] at (axis cs:-20.5,3) {minute};
\node[anchor=base west, inner sep=0pt, font=\fontsize{17}{18}\selectfont] at (axis cs:60.3,3) {1};
\node[anchor=base west, inner sep=0pt, font=\fontsize{17}{18}\selectfont] at (axis cs:120.3,3) {2};

% titles
\node[anchor=base, inner sep=0pt, font=\fontsize{24}{28}\selectfont] at (axis cs:79.5,842) {Pyrenees Atlantiques Ml=1.8 ICC (ICC, 2002)};
\node[anchor=base, inner sep=0pt, font=\fontsize{24}{28}\selectfont] at (axis cs:80.5,810) {2002-12-11\_22:05:00.0077};

% channel names and amplitudes
\node[lab] at (axis cs:-20.2,779) {CAVN..BHE-0};
\node[lab] at (axis cs:-20.2,735.8) {CAVN..BHN-0};
\node[lab] at (axis cs:-20.2,692.6) {CAVN..BHZ-0};
\node[lab] at (axis cs:-20.2,649.4) {CBRU..BHE-0};
\node[lab] at (axis cs:-20.2,606.2) {CBRU..BHN-0};
\node[lab] at (axis cs:-20.2,563) {CBRU..BHZ-0};
\node[lab] at (axis cs:-20.2,519.8) {CFON..BHE-0};
\node[lab] at (axis cs:-20.2,476.6) {CFON..BHN-0};
\node[lab] at (axis cs:-20.2,433.4) {CFON..BHZ-0};
\node[lab] at (axis cs:-20.2,390.2) {CLLI..BHE-0};
\node[lab] at (axis cs:-20.2,347) {CLLI..BHN-0};
\node[lab] at (axis cs:-20.2,303.8) {CLLI..BHZ-0};
\node[lab] at (axis cs:-20.2,260.6) {CORG..BHE-0};
\node[lab] at (axis cs:-20.2,217.4) {CORG..BHN-0};
\node[lab] at (axis cs:-20.2,174.2) {CORG..BHZ-0};
\node[lab] at (axis cs:-20.2,131) {CSOR..BHE-0};
\node[lab] at (axis cs:-20.2,87.8) {CSOR..BHN-0};
\node[lab] at (axis cs:-20.2,44.6) {CSOR..BHZ-0};

\node[cnt] at (axis cs:6.7,794.7) {724};
\node[cnt] at (axis cs:6.7,751.5) {958};
\node[cnt] at (axis cs:6.7,708.3) {622};
\node[cnt] at (axis cs:6.7,665.1) {865};
\node[cnt] at (axis cs:6.7,621.9) {805};
\node[cnt] at (axis cs:6.7,578.7) {860};
\node[cnt] at (axis cs:6.7,535.5) {733};
\node[cnt] at (axis cs:6.7,492.3) {545};
\node[cnt] at (axis cs:6.7,449.1) {656};
\node[cnt] at (axis cs:6.7,405.9) {567};
\node[cnt] at (axis cs:6.7,362.7) {593};
\node[cnt] at (axis cs:6.7,319.5) {555};
\node[cnt] at (axis cs:6.7,276.3) {520};
\node[cnt] at (axis cs:6.7,233.1) {510};
\node[cnt] at (axis cs:6.7,189.9) {476};
\node[cnt] at (axis cs:6.7,146.7) {516};
\node[cnt] at (axis cs:6.7,103.5) {590};
\node[cnt] at (axis cs:6.7,60.3) {444};
\end{axis}
\pgfresetboundingbox
\path[use as bounding box] (ax.south west) ++(0,-3pt) rectangle ++(640pt,866pt);
\end{tikzpicture}
\end{document}
